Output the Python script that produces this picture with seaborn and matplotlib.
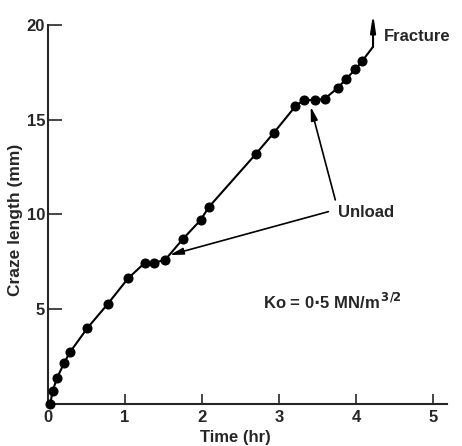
import matplotlib
matplotlib.use("Agg")
import matplotlib.pyplot as plt
import seaborn as sns
import pandas as pd

# Data
time_hr = [0.03, 0.06, 0.12, 0.21, 0.29, 0.51, 0.78, 1.04, 1.26, 1.38, 1.52,
           1.75, 1.98, 2.09, 2.70, 2.93, 3.21, 3.32, 3.46, 3.59, 3.76, 3.87,
           3.99, 4.08]
craze_mm = [0.0, 0.7, 1.39, 2.18, 2.76, 4.0, 5.3, 6.63, 7.46, 7.46, 7.6,
            8.7, 9.7, 10.4, 13.2, 14.3, 15.7, 16.04, 16.04, 16.1, 16.67, 17.15,
            17.66, 18.1]
# tail to fracture
tail_t = [4.08, 4.22]
tail_l = [18.1, 18.85]
fracture_arrow = [(4.22, 18.85), (4.22, 20.6)]

x_ticks = [0, 1, 2, 3, 4, 5]
y_ticks = [5, 10, 15, 20]

sns.set_style("ticks")
plt.rcParams['font.family'] = ['Liberation Sans', 'DejaVu Sans']
plt.rcParams['font.weight'] = 'bold'

fig = plt.figure(figsize=(4.62, 4.46), dpi=100)
ax = fig.add_axes([0.1039, 0.0942, 0.8636, 0.8498])

df = pd.DataFrame({"t": time_hr, "L": craze_mm})
sns.lineplot(data=df, x="t", y="L", sort=False, color="black", lw=1.5,
             marker="o", markersize=6.5, markeredgecolor="black", ax=ax,
             clip_on=False, zorder=3)
sns.lineplot(x=tail_t, y=tail_l, sort=False, color="black", lw=1.5, ax=ax)

arrow_kw = dict(color="black", shrinkA=0, shrinkB=0)
ax.annotate("", xy=fracture_arrow[1], xytext=fracture_arrow[0],
            arrowprops=dict(lw=1.5, arrowstyle="-|>,head_length=1.0,head_width=0.15",
                            **arrow_kw), annotation_clip=False)
ax.text(4.36, 19.4, "Fracture", fontsize=12, fontweight="bold", va="center", ha="left")

# Unload arrows
ax.annotate("", xy=(3.41, 15.69), xytext=(3.73, 10.77),
            arrowprops=dict(lw=1.2, arrowstyle="-|>,head_length=0.8,head_width=0.2",
                            **arrow_kw))
ax.annotate("", xy=(1.58, 7.86), xytext=(3.64, 10.15),
            arrowprops=dict(lw=1.2, arrowstyle="-|>,head_length=0.8,head_width=0.2",
                            **arrow_kw))
ax.text(3.76, 10.1, "Unload", fontsize=12, fontweight="bold", va="center", ha="left")

ax.text(2.79, 5.4, r"Ko = 0$\cdot$5 MN/m$^{\,3/2}$", fontsize=12, fontweight="bold",
        va="center", ha="left")

ax.set_xlim(0, 5.18)
ax.set_ylim(0, 20)
ax.set_xticks(x_ticks)
ax.set_yticks(y_ticks)
ax.tick_params(axis="x", direction="in", length=7, width=1.2, labelsize=12, pad=4)
ax.tick_params(axis="y", direction="in", length=10, width=1.2, labelsize=12, pad=2)
for s in ["top", "right"]:
    ax.spines[s].set_visible(False)
for s in ["left", "bottom"]:
    ax.spines[s].set_linewidth(1.5)
ax.set_xlabel("Time (hr)", fontsize=12, fontweight="bold")
ax.set_ylabel("Craze length (mm)", fontsize=12.5, fontweight="bold")
ax.xaxis.set_label_coords(0.47, -0.068)
ax.yaxis.set_label_coords(-0.062, 0.486)

fig.savefig("out.png", dpi=100)
